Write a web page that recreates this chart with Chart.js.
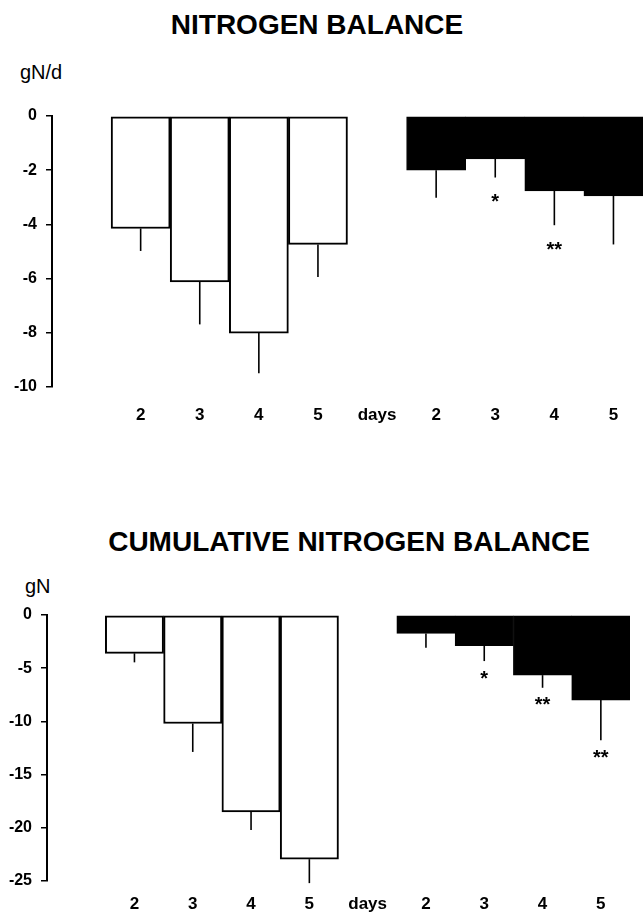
<!DOCTYPE html>
<html>
<head>
<meta charset="utf-8">
<script src="https://cdn.jsdelivr.net/npm/chart.js@4.4.1/dist/chart.umd.min.js"></script>
<style>
  body { margin: 0; background: #fff; }
  #wrap { position: relative; width: 643px; height: 912px; overflow: hidden; font-family: "Liberation Sans", Arial, sans-serif; }
  canvas { position: absolute; left: 0; }
  .title { position: absolute; font-weight: bold; font-size: 28px; line-height: 28px; white-space: nowrap; transform: translateX(-50%); }
  .unit { position: absolute; font-size: 20px; line-height: 20px; }
</style>
</head>
<body>
<div id="wrap">
  <div class="title" style="left:317px; top:11px;">NITROGEN BALANCE</div>
  <div class="unit" style="left:20px; top:62px;">gN/d</div>
  <canvas id="daily" style="top:0px;"></canvas>

  <div class="title" style="left:349px; top:528px;">CUMULATIVE NITROGEN BALANCE</div>
  <div class="unit" style="left:25px; top:576px;">gN</div>
  <canvas id="cumul" style="top:460px;"></canvas>
</div>

<script>
// days on study
let days = ["2", "3", "4", "5"]

// nitrogen balance per day (gN/d), mean and SE
let controlDaily = [-4.15, -6.12, -8.01, -4.74]
let controlDailySE = [0.83, 1.57, 1.48, 1.20]
let treatedDaily = [-2.0, -1.58, -2.76, -2.95]
let treatedDailySE = [1.02, 0.69, 1.27, 1.79]
let treatedDailySig = ["", "*", "**", ""]

// cumulative nitrogen balance (gN)
let controlCum = [-3.6, -10.2, -18.5, -22.95]
let controlCumSE = [0.85, 2.67, 1.7, 2.25]
let treatedCum = [-1.73, -2.89, -5.65, -8.0]
let treatedCumSE = [1.34, 1.44, 1.19, 3.76]
let treatedCumSig = ["", "*", "**", "**"]

let dailyTicks = { min: -10, max: 0, step: 2 }
let cumTicks = { min: -25, max: 0, step: 5 }

Chart.defaults.font.family = '"Liberation Sans", Arial, sans-serif'
Chart.defaults.color = "#000"

// first slot is empty (gap next to the y axis), then control, "days", treated
let labels = [""].concat(days, ["days"], days)
let none = [null, null, null, null]

function pad(left, right) {
  return [null].concat(left, [null], right)
}

// error bars (downwards only) and significance stars
const errorBars = {
  id: "errorBars",
  afterDatasetsDraw(chart, args, opts) {
    const ctx = chart.ctx
    const y = chart.scales.y
    chart.data.datasets.forEach((ds, di) => {
      const meta = chart.getDatasetMeta(di)
      meta.data.forEach((bar, i) => {
        const v = ds.data[i]
        if (v == null) return
        const end = y.getPixelForValue(v - ds.se[i])
        ctx.save()
        ctx.strokeStyle = "#000"
        ctx.lineWidth = 1.6
        ctx.beginPath()
        ctx.moveTo(bar.x, bar.y)
        ctx.lineTo(bar.x, end)
        ctx.stroke()
        if (ds.sig && ds.sig[i]) {
          ctx.fillStyle = "#000"
          ctx.font = "bold 20px 'Liberation Sans', Arial"
          ctx.textAlign = "center"
          ctx.textBaseline = "middle"
          ctx.fillText(ds.sig[i], bar.x, end + opts.starGap)
        }
        ctx.restore()
      })
    })
  }
}

function makeChart(id, h, padding, yWidth, xHeight, labelPad, ticks, control, controlSE, treated, treatedSE, sig, starGap) {
  let el = document.getElementById(id)
  el.width = 643
  el.height = h
  return new Chart(el, {
    type: "bar",
    data: {
      labels: labels,
      datasets: [
        {
          data: pad(control, none),
          se: pad(controlSE, none),
          backgroundColor: "#fff",
          borderColor: "#000",
          borderWidth: 2,
          borderSkipped: false,
          grouped: false,
          barPercentage: 1,
          categoryPercentage: 1,
        },
        {
          data: pad(none, treated),
          se: pad(none, treatedSE),
          sig: pad(none, sig),
          backgroundColor: "#000",
          borderColor: "#000",
          borderWidth: 1,
          borderSkipped: false,
          grouped: false,
          barPercentage: 1,
          categoryPercentage: 1,
        },
      ],
    },
    options: {
      responsive: false,
      animation: false,
      layout: { padding: padding },
      plugins: {
        legend: { display: false },
        tooltip: { enabled: false },
        errorBars: { starGap: starGap },
      },
      scales: {
        x: {
          grid: { display: false, drawTicks: false },
          border: { display: false },
          ticks: { font: { size: 17, weight: "bold" }, padding: labelPad, maxRotation: 0, autoSkip: false },
          afterFit(scale) { scale.height = xHeight },
        },
        y: {
          min: ticks.min,
          max: ticks.max,
          grid: { drawOnChartArea: false, drawTicks: true, tickLength: 6, color: "#000", lineWidth: 1.5 },
          border: { display: true, color: "#000", width: 2 },
          ticks: { stepSize: ticks.step, font: { size: 16, weight: "bold" }, padding: 9 },
          afterFit(scale) { scale.width = yWidth },
        },
      },
    },
    plugins: [errorBars],
  })
}

makeChart("daily", 440, { top: 116, right: 0, bottom: 0, left: 0 }, 52, 53, 18, dailyTicks,
  controlDaily, controlDailySE, treatedDaily, treatedDailySE, treatedDailySig, 25)

makeChart("cumul", 452, { top: 155, right: 13, bottom: 0, left: 0 }, 47, 31, 13, cumTicks,
  controlCum, controlCumSE, treatedCum, treatedCumSE, treatedCumSig, 18)
</script>
</body>
</html>
